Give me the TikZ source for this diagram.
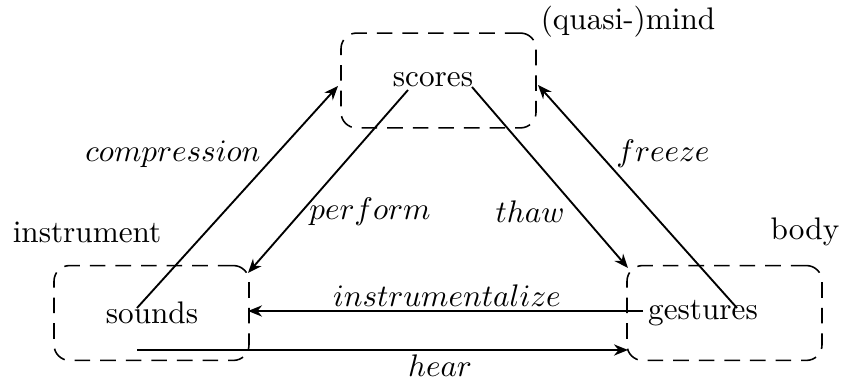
\documentclass[tikz,border=0pt]{standalone}
\usetikzlibrary{arrows.meta}
\begin{document}
\begin{tikzpicture}[x=0.3205pt,y=-0.3205pt,
  dbox/.style={draw, dash pattern=on 5pt off 3.2pt, line width=0.5pt, rounded corners=5pt, minimum width=62.5pt, minimum height=30.4pt, inner sep=0pt},
  arr/.style={-{Stealth[length=4.5pt,width=3.6pt]}, line width=0.6pt},
  lbl/.style={inner sep=0pt}]
\useasboundingbox (0,0) rectangle (841,379);
% boxes
\node[dbox] (mindbox) at (438.5,80.5) {};
\node[dbox] (instbox) at (151.5,313) {};
\node[dbox] (bodybox) at (724.5,313) {};
% main texts
\node[lbl] (scores) at (433,80) {scores};
\node[lbl] (sounds) at (152,313) {sounds};
\node[lbl] (gestures) at (703,313) {gestures};
\node[lbl] (mind) at (628,22) {(quasi-)mind};
\node[lbl] (instr) at (87,232) {instrument};
\node[lbl] (body) at (805,232) {body};
% connector endpoints
\coordinate (cs) at (137,308);
\coordinate (ce) at (338,86);
\coordinate (ps) at (408,90);
\coordinate (pe) at (248,273);
\coordinate (ts) at (472,87);
\coordinate (te) at (628,268);
\coordinate (fs) at (737,308);
\coordinate (fe) at (538,85);
\coordinate (is) at (643,311);
\coordinate (ie) at (248,311);
\coordinate (hs) at (137,350);
\coordinate (he) at (628,350);
% connectors
\draw[arr] (cs) -- (ce);
\draw[arr] (ps) -- (pe);
\draw[arr] (ts) -- (te);
\draw[arr] (fs) -- (fe);
\draw[arr] (is) -- (ie);
\draw[arr] (hs) -- (he);
% labels
\node[lbl] (lc) at (173,154) {$compression$};
\node[lbl] (lp) at (370,212) {$perform$};
\node[lbl] (lt) at (530,212) {$thaw$};
\node[lbl] (lf) at (663,154) {$freeze$};
\node[lbl] (li) at (447,296) {$instrumentalize$};
\node[lbl] (lh) at (440,366) {$hear$};
\end{tikzpicture}
\end{document}
